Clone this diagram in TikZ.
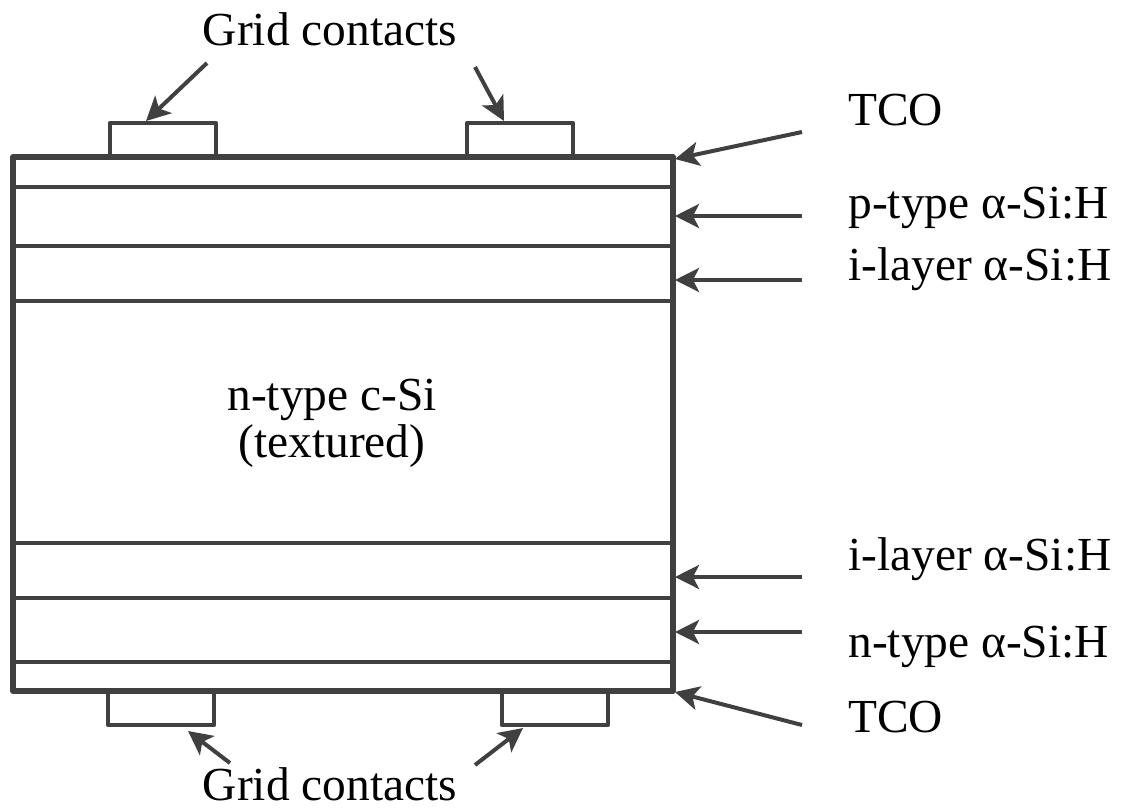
\documentclass[tikz,border=0pt]{standalone}
\usepackage{fontspec}
\setmainfont{Liberation Serif}
\usetikzlibrary{arrows.meta}
\definecolor{lc}{HTML}{404040}
\tikzset{
  outer/.style={draw=lc, line width=3pt, line join=round},
  layer/.style={draw=lc, line width=2.1pt},
  contact/.style={draw=lc, line width=2.3pt, line join=round},
  ptr/.style={draw=lc, line width=2pt, -{Stealth[length=12pt,width=12pt,inset=3pt]}},
  lbl/.style={inner sep=0pt, anchor=base west, font=\fontsize{23.7}{28}\selectfont},
  clbl/.style={inner sep=0pt, anchor=base, font=\fontsize{23.7}{28}\selectfont},
}
\begin{document}
\begin{tikzpicture}[x=0.5pt,y=-0.5pt]
\useasboundingbox (0,0) rectangle (1123,809);
% contacts
\draw[contact] (110,157) -- (110,123) -- (216,123) -- (216,157);
\draw[contact] (467,157) -- (467,123) -- (573,123) -- (573,157);
\draw[contact] (108,691) -- (108,725) -- (214,725) -- (214,691);
\draw[contact] (502,691) -- (502,725) -- (608,725) -- (608,691);
% layers
\draw[layer] (13,187) -- (673,187);
\draw[layer] (13,246) -- (673,246);
\draw[layer] (13,301) -- (673,301);
\draw[layer] (13,543) -- (673,543);
\draw[layer] (13,598) -- (673,598);
\draw[layer] (13,662) -- (673,662);
\draw[outer] (13,157) rectangle (673,691);
% labels
\node[clbl] (gt) at (330,45) {Grid contacts};
\node[clbl] (gb) at (330,800) {Grid contacts};
\node[clbl] (c1) at (332,410) {n-type c-Si};
\node[clbl] (c2) at (332,457) {(textured)};
\node[lbl] (l1) at (848,125) {TCO};
\node[lbl] (l2) at (848,218) {p-type α-Si:H};
\node[lbl] (l3) at (848,280) {i-layer α-Si:H};
\node[lbl] (l4) at (848,570) {i-layer α-Si:H};
\node[lbl] (l5) at (848,657) {n-type α-Si:H};
\node[lbl] (l6) at (848,732) {TCO};
% arrow coordinates
\coordinate (t1) at (207,63);  \coordinate (h1) at (146,121);
\coordinate (t2) at (475,67);  \coordinate (h2) at (504,121);
\coordinate (t3) at (230,763); \coordinate (h3) at (188,731);
\coordinate (t4) at (475,765); \coordinate (h4) at (523,728);
\coordinate (r1) at (802,132); \coordinate (s1) at (675,159);
\coordinate (r2) at (802,216); \coordinate (s2) at (675,216);
\coordinate (r3) at (802,280); \coordinate (s3) at (675,280);
\coordinate (r4) at (802,577); \coordinate (s4) at (675,577);
\coordinate (r5) at (802,632); \coordinate (s5) at (675,632);
\coordinate (r6) at (802,725); \coordinate (s6) at (675,692);
\draw[ptr] (t1) -- (h1);
\draw[ptr] (t2) -- (h2);
\draw[ptr] (t3) -- (h3);
\draw[ptr] (t4) -- (h4);
\draw[ptr] (r1) -- (s1);
\draw[ptr] (r2) -- (s2);
\draw[ptr] (r3) -- (s3);
\draw[ptr] (r4) -- (s4);
\draw[ptr] (r5) -- (s5);
\draw[ptr] (r6) -- (s6);
\end{tikzpicture}
\end{document}
